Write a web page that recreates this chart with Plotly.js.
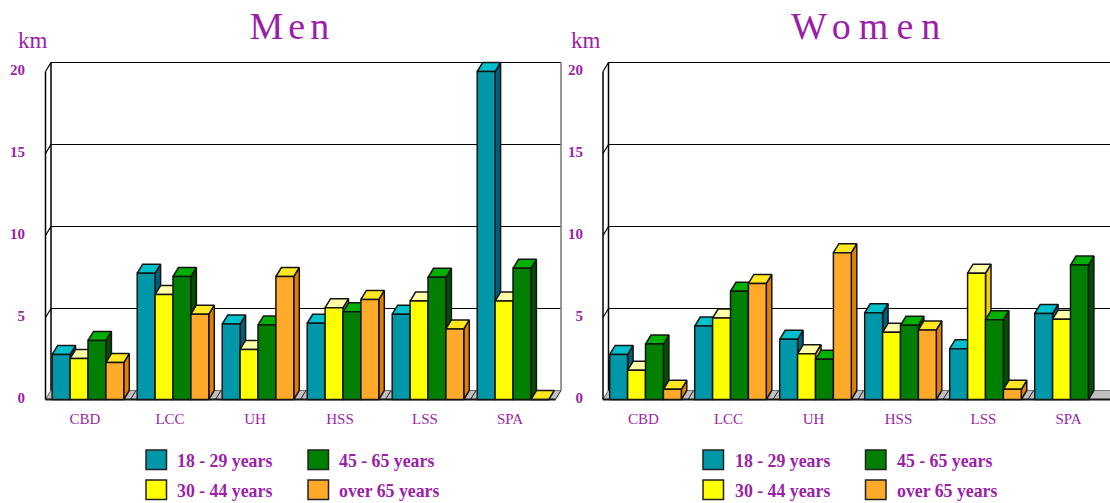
<!DOCTYPE html>
<html>
<head>
<meta charset="utf-8">
<script src="https://cdn.plot.ly/plotly-3.0.1.min.js"></script>
<style>
  html, body { margin: 0; padding: 0; background: #fff; overflow: hidden; }
  #chart { width: 1110px; height: 503px; }
  .annotation[data-index="0"] text { letter-spacing: 5px; }
  .annotation[data-index="1"] text { letter-spacing: 8px; }
</style>
</head>
<body>
<div id="chart"></div>
<script>
// Commuting distance by district, age group and sex
const categories = ['CBD', 'LCC', 'UH', 'HSS', 'LSS', 'SPA'];
const ageGroups = ['18 - 29 years', '30 - 44 years', '45 - 65 years', 'over 65 years'];
const yTicks = [0, 5, 10, 15, 20];

const men18to29 = [2.75, 7.7, 4.6, 4.65, 5.2, 20];
const men30to44 = [2.5, 6.4, 3.05, 5.6, 6.0, 6.0];
const men45to65 = [3.6, 7.5, 4.55, 5.35, 7.45, 8.0];
const menOver65 = [2.25, 5.2, 7.5, 6.1, 4.3, 0];

const women18to29 = [2.75, 4.48, 3.67, 5.29, 3.1, 5.25];
const women30to44 = [1.78, 4.97, 2.79, 4.1, 7.7, 4.9];
const women45to65 = [3.38, 6.6, 2.45, 4.52, 4.87, 8.2];
const womenOver65 = [0.62, 7.08, 8.95, 4.24, 0.62, null];

// Face colours per age group: front, top, side
const frontColors = ['#0098a8', '#ffff00', '#007f00', '#ffaa2a'];
const topColors = ['#00c0cc', '#ffffa8', '#00b000', '#ffe820'];
const sideColors = ['#00607c', '#f0cc20', '#005000', '#e08000'];

const purple = '#9b1fa9';
const serif = '"Liberation Serif", "Times New Roman", serif';
const W = 1110, H = 503;

// Drawing scale of the pseudo-3D box
const pxPerCategory = 85, pxPerUnit = 16.4;
const baselinePx = 399.5, depthX = 5.5 / pxPerCategory, depthY = 9 / pxPerUnit;
const barWidth = 17.9 / pxPerCategory;
const edge = '#141414';
const edgeWidth = 1.5;

const traces = [];

function polygons(list) {
  const xs = [], ys = [];
  list.forEach(p => {
    p.forEach(pt => { xs.push(pt[0]); ys.push(pt[1]); });
    xs.push(p[0][0]); ys.push(p[0][1]);
    xs.push(null); ys.push(null);
  });
  return { x: xs, y: ys };
}

function addPanel(series, xa, ya, lastBoundary, showRightWall) {
  const xLeft = -0.5;
  const line = (x, y, color, width) => traces.push({
    type: 'scatter', mode: 'lines', x, y, xaxis: xa, yaxis: ya, zorder: 0,
    line: { color, width }, hoverinfo: 'skip', showlegend: false, cliponaxis: true
  });

  // Floor
  traces.push({
    type: 'scatter', mode: 'lines', xaxis: xa, yaxis: ya, zorder: 0,
    x: [xLeft, lastBoundary, lastBoundary + depthX, xLeft + depthX, xLeft],
    y: [0, 0, depthY, depthY, 0],
    fill: 'toself', fillcolor: '#c0c0c0', line: { color: '#c0c0c0', width: 0.5 },
    hoverinfo: 'skip', showlegend: false
  });

  // Back wall grid and the mitres along the left wall
  yTicks.forEach(v => {
    line([xLeft, xLeft + depthX, lastBoundary + depthX],
         [v, v + depthY, v + depthY], v === 0 ? '#777' : '#000', 1.2);
  });
  line([xLeft, xLeft], [0, 20], '#000', 1.5);
  line([xLeft + depthX, xLeft + depthX], [depthY, 20 + depthY], '#000', 1.5);
  if (showRightWall) {
    line([lastBoundary + depthX, lastBoundary + depthX], [depthY, 20 + depthY], '#777', 1.5);
  }

  // Floor divisions between the districts
  for (let b = xLeft + 1; b < lastBoundary + 0.01; b += 1) {
    line([b, b + depthX], [0, depthY], '#222', 1);
  }

  // Bars, left to right so each front covers its neighbour's side
  series.forEach((vals, s) => {
    const offset = (s - 2) * barWidth;
    const tops = [], sides = [];
    vals.forEach((v, i) => {
      if (v === null) return;
      const l = i + offset, r = l + barWidth;
      tops.push([[l, v], [l + depthX, v + depthY], [r + depthX, v + depthY], [r, v]]);
      if (v > 0) sides.push([[r, v], [r + depthX, v + depthY], [r + depthX, depthY], [r, 0]]);
    });
    [[sides, sideColors[s]], [tops, topColors[s]]].forEach(([faces, color]) => {
      if (!faces.length) return;
      const p = polygons(faces);
      traces.push({
        type: 'scatter', mode: 'lines', x: p.x, y: p.y, xaxis: xa, yaxis: ya,
        zorder: 2 * s + 1, fill: 'toself', fillcolor: color,
        line: { color: edge, width: edgeWidth }, hoverinfo: 'skip', showlegend: false
      });
    });
    traces.push({
      type: 'bar', name: ageGroups[s], xaxis: xa, yaxis: ya, zorder: 2 * s + 2,
      x: categories.map((_, i) => i), y: vals, width: barWidth, offset,
      marker: { color: frontColors[s], line: { color: edge, width: edgeWidth } },
      showlegend: false
    });
  });

  // Front edge of the floor
  line([xLeft, lastBoundary], [0, 0], '#141414', 2);
}

// Pixel frames of the two panels; the second runs off the page edge
const menCentre = 88, womenCentre = 645.5;
const plotTop = 58, plotBottom = 405;
const menFrame = [39, 567], womenFrame = [597, 1110];

addPanel([men18to29, men30to44, men45to65, menOver65], 'x', 'y', 5.5, true);
addPanel([women18to29, women30to44, women45to65, womenOver65], 'x2', 'y2', 6.5, false);

const xAxis = (frame, centre, shift) => ({
  domain: [frame[0] / W, frame[1] / W],
  range: [(frame[0] - centre) / pxPerCategory, (frame[1] - centre) / pxPerCategory],
  tickmode: 'array', tickvals: categories.map((_, i) => i), ticktext: categories,
  tickfont: { family: serif, size: 15, color: purple },
  ticks: '', showgrid: false, zeroline: false, showline: false, fixedrange: true,
  ticklabelstandoff: 3, ticklabelshift: shift
});
const yAxis = (anchor) => ({
  anchor,
  domain: [1 - plotBottom / H, 1 - plotTop / H],
  range: [(baselinePx - plotBottom) / pxPerUnit, (baselinePx - plotTop) / pxPerUnit],
  tickmode: 'array', tickvals: yTicks,
  tickfont: { family: serif, size: 15, color: purple, weight: 700 },
  ticks: '', showgrid: false, zeroline: false, showline: false, fixedrange: true,
  ticklabelstandoff: 13, ticklabelshift: -2
});

const paperX = px => px / W, paperY = py => 1 - py / H;
const annotations = [], shapes = [];
const note = (text, x, y, size, weight) => annotations.push({
  text, xref: 'paper', yref: 'paper', x: paperX(x), y: paperY(y),
  xanchor: 'left', yanchor: 'middle', showarrow: false,
  font: { family: serif, size, color: purple, weight: weight || 400 }
});

note('Men', 254.5, 26, 38);
note('Women', 809, 26, 38);
note('km', 16, 40, 23);
note('km', 569, 40, 23);

// Legend blocks, one under each panel
[[146, 175, 308, 337], [703, 732.5, 865.5, 895]].forEach(([sw1, tx1, sw2, tx2]) => {
  [[sw1, tx1, 450, 0], [sw1, tx1, 480, 1], [sw2, tx2, 450, 2], [sw2, tx2, 480, 3]].forEach(([sx, tx, sy, s]) => {
    shapes.push({
      type: 'rect', xref: 'paper', yref: 'paper',
      x0: paperX(sx), x1: paperX(sx + 20.5), y0: paperY(sy), y1: paperY(sy + 19.5),
      fillcolor: frontColors[s], line: { color: '#222', width: 1.5 }
    });
    note(ageGroups[s], tx, sy + 11, 17.8, 700);
  });
});

Plotly.newPlot('chart', traces, {
  width: W, height: H,
  margin: { l: 0, r: 0, t: 0, b: 0 },
  paper_bgcolor: '#fff', plot_bgcolor: 'rgba(0,0,0,0)',
  barmode: 'overlay', showlegend: false,
  font: { family: serif, color: purple },
  xaxis: xAxis(menFrame, menCentre, -3),
  yaxis: yAxis('x'),
  xaxis2: Object.assign(xAxis(womenFrame, womenCentre, -2), { anchor: 'y2' }),
  yaxis2: yAxis('x2'),
  annotations, shapes
}, { displayModeBar: false });
</script>
</body>
</html>
